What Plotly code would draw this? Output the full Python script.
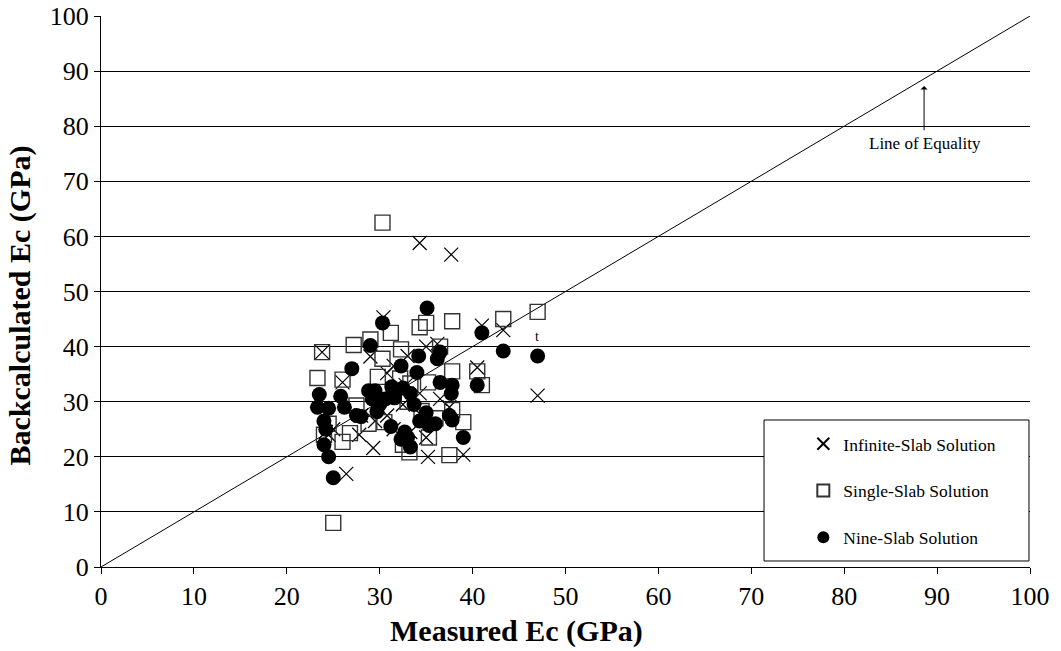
import plotly.graph_objects as go

# Infinite-Slab Solution (x marks)
inf_x = [34.3, 37.7, 30.4, 41.0, 43.3, 36.2, 40.5, 47.0, 39.0, 35.2, 26.4, 29.3, 29.0, 23.8, 24.5, 25.0,
         24.2, 30.8, 33.0, 35.0, 31.5, 32.8, 30.8, 31.5, 34.5, 35.0, 29.5, 28.0, 37.5, 34.3, 36.5, 27.8,
         32.5, 33.3, 26.0]
inf_y = [58.8, 56.7, 45.3, 43.8, 43.0, 40.5, 36.2, 31.1, 20.4, 20.0, 16.9, 21.6, 38.2, 39.0, 24.0, 25.0,
         24.5, 35.2, 38.3, 40.0, 36.5, 33.0, 27.5, 25.0, 27.5, 23.5, 26.5, 27.5, 29.0, 31.5, 30.5, 24.0,
         29.5, 24.5, 33.5]

# Single-Slab Solution (open squares)
sgl_x = [30.3, 25.0, 23.8, 23.3, 26.0, 27.2, 29.0, 31.2, 32.3, 34.3, 35.0, 37.8, 36.5, 43.3, 47.0, 40.5,
         41.0, 37.8, 35.2, 33.3, 30.3, 29.8, 32.2, 28.8, 27.5, 26.8, 26.0, 24.0, 24.5, 30.5, 32.5, 33.2,
         34.5, 35.3, 37.5, 39.0, 37.8, 33.0, 31.5, 36.0]
sgl_y = [62.5, 8.0, 39.0, 34.3, 34.0, 40.3, 41.3, 42.5, 39.5, 43.5, 44.3, 44.6, 40.0, 45.0, 46.3, 35.5,
         33.0, 35.5, 33.5, 33.3, 37.8, 34.5, 34.2, 26.0, 29.3, 24.3, 22.7, 24.0, 26.0, 26.3, 22.2, 20.8,
         28.3, 23.5, 20.3, 26.3, 28.5, 30.0, 31.2, 27.0]

# Nine-Slab Solution (filled circles)
nine_x = [35.1, 30.3, 41.0, 43.3, 47.0, 40.5, 29.0, 27.0, 34.2, 36.2, 36.5, 32.3, 34.0, 36.5, 37.8, 37.7,
          29.5, 31.3, 32.5, 33.3, 30.6, 31.6, 30.0, 29.7, 33.7, 35.0, 37.5, 37.8, 34.3, 35.3, 36.0, 31.2,
          32.7, 33.0, 33.3, 32.3, 39.0, 23.5, 25.8, 23.3, 26.2, 27.5, 28.0, 24.5, 24.0, 24.2, 24.0, 24.5,
          25.0, 28.8, 29.2]
nine_y = [47.0, 44.3, 42.5, 39.2, 38.3, 33.0, 40.2, 36.0, 38.3, 37.8, 39.0, 36.5, 35.3, 33.5, 33.0, 31.5,
          32.0, 32.7, 32.5, 31.5, 30.5, 30.7, 29.5, 28.2, 29.5, 28.0, 27.5, 26.7, 26.5, 25.7, 26.0, 25.5,
          24.5, 23.5, 21.8, 23.2, 23.5, 31.3, 31.0, 29.0, 29.0, 27.5, 27.3, 28.8, 26.5, 25.0, 22.2, 20.0,
          16.2, 32.0, 30.5]

eq_x = [0, 100]
eq_y = [0, 100]

serif = "Liberation Serif, Times New Roman, serif"

fig = go.Figure()
fig.add_trace(go.Scatter(x=eq_x, y=eq_y, mode="lines", line=dict(color="black", width=1),
                         showlegend=False, hoverinfo="skip"))
fig.add_trace(go.Scatter(x=inf_x, y=inf_y, mode="markers", name="Infinite-Slab Solution",
                         legendgroup="a",
                         marker=dict(symbol="x-thin-open", size=14, color="black",
                                     line=dict(color="black", width=1.2))))
fig.add_trace(go.Scatter(x=sgl_x, y=sgl_y, mode="markers", name="Single-Slab Solution",
                         legendgroup="b",
                         marker=dict(symbol="square-open", size=15, color="#333333",
                                     line=dict(color="#333333", width=1.4))))
fig.add_trace(go.Scatter(x=nine_x, y=nine_y, mode="markers", name="Nine-Slab Solution",
                         legendgroup="c",
                         marker=dict(symbol="circle", size=15, color="black")))

fig.add_annotation(x=88.6, y=87.3, ax=88.6, ay=79.0, xref="x", yref="y", axref="x", ayref="y",
                   text="", showarrow=True, arrowhead=1, arrowsize=1.2, arrowwidth=1, arrowcolor="black")
fig.add_annotation(x=88.7, y=76.8, text="Line of Equality", showarrow=False,
                   font=dict(family=serif, size=17, color="black"))
fig.add_annotation(x=46.9, y=41.9, text="t", showarrow=False,
                   font=dict(family=serif, size=14, color="black"))

# axis titles
fig.add_annotation(x=0.447, y=-0.117, xref="paper", yref="paper", xanchor="center", yanchor="middle",
                   text="<b>Measured Ec (GPa)</b>", showarrow=False,
                   font=dict(family=serif, size=30, color="black"))
fig.add_annotation(x=-0.087, y=0.475, xref="paper", yref="paper", xanchor="center", yanchor="middle",
                   text="<b>Backcalculated Ec (GPa)</b>", showarrow=False, textangle=-90,
                   font=dict(family=serif, size=30, color="black"))

fig.add_shape(type="rect", xref="paper", yref="paper", x0=0.7137, x1=0.9989, y0=0.0109, y1=0.2668,
              line=dict(color="black", width=1), fillcolor="white", layer="above")

fig.update_layout(
    width=1061, height=651,
    margin=dict(l=101, r=31, t=16, b=84),
    plot_bgcolor="white", paper_bgcolor="white",
    font=dict(family=serif, color="black"),
    showlegend=True,
    legend=dict(x=0.756, y=0.256, xanchor="left", yanchor="top", bgcolor="rgba(0,0,0,0)",
                borderwidth=0, font=dict(family=serif, size=17.5, color="black"),
                tracegroupgap=21, itemsizing="constant", itemwidth=30),
    xaxis=dict(range=[0, 100], dtick=10, showgrid=False, zeroline=False, showline=True,
               linecolor="black", linewidth=1, ticks="outside", ticklen=6, tickcolor="black",
               automargin=False, tickfont=dict(family=serif, size=26)),
    yaxis=dict(range=[0, 100], dtick=10, showgrid=True, gridcolor="black", gridwidth=1, zeroline=False,
               showline=True, linecolor="black", linewidth=1, ticks="outside", ticklen=6,
               tickcolor="black", automargin=False, tickfont=dict(family=serif, size=26)),
)

fig.write_html("out.html")
